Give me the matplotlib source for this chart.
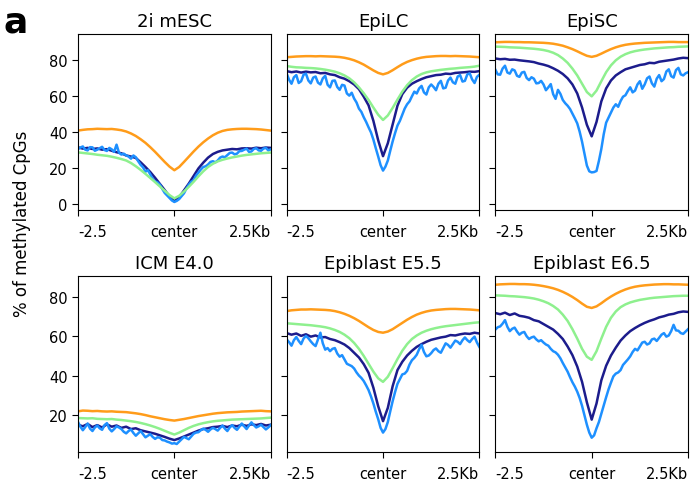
import numpy as np
import matplotlib
matplotlib.use("Agg")
import matplotlib.pyplot as plt

titles = ["2i mESC", "EpiLC", "EpiSC", "ICM E4.0", "Epiblast E5.5", "Epiblast E6.5"]
xtick_labels = ["-2.5", "center", "2.5Kb"]
ylabel = "% of methylated CpGs"
x_start, x_end = -2.5, 2.5

orange = {
    "2i mESC": [40.8, 41.2, 41.5, 41.6, 41.8, 41.7, 41.6, 41.7, 41.4, 41.0, 40.3, 39.2, 37.8, 36.0, 34.0, 31.6, 29.0, 26.2, 23.4, 20.8, 18.8,
                20.6, 23.4, 26.3, 29.2, 31.9, 34.3, 36.4, 38.2, 39.6, 40.6, 41.2, 41.5, 41.7, 41.8, 41.8, 41.7, 41.6, 41.4, 41.1, 40.8],
    "EpiLC": [81.5, 81.7, 81.9, 82.0, 82.1, 82.1, 82.0, 82.1, 82.0, 81.9, 81.8, 81.6, 81.2, 80.6, 79.8, 78.7, 77.4, 75.8, 74.2, 72.8, 72.0,
              72.8, 74.3, 76.0, 77.6, 78.9, 79.9, 80.7, 81.3, 81.7, 81.9, 82.1, 82.2, 82.2, 82.1, 82.2, 82.1, 82.0, 81.9, 81.7, 81.5],
    "EpiSC": [89.8, 89.9, 90.0, 90.0, 89.9, 89.9, 89.8, 89.8, 89.7, 89.6, 89.5, 89.3, 89.0, 88.5, 87.9, 87.0, 86.0, 84.8, 83.5, 82.3, 81.7,
              82.3, 83.5, 84.8, 86.0, 87.0, 87.8, 88.4, 88.8, 89.1, 89.3, 89.5, 89.6, 89.7, 89.8, 89.9, 90.0, 90.0, 89.9, 89.9, 89.9],
    "ICM E4.0": [21.8, 22.2, 22.1, 21.9, 22.0, 21.8, 21.7, 21.8, 21.6, 21.5, 21.4, 21.1, 20.8, 20.4, 19.9, 19.3, 18.8, 18.3, 17.8, 17.4, 17.1,
                 17.5, 17.9, 18.4, 18.9, 19.4, 19.8, 20.2, 20.6, 20.9, 21.1, 21.3, 21.4, 21.5, 21.7, 21.8, 21.9, 22.0, 22.1, 21.9, 21.8],
    "Epiblast E5.5": [72.8, 73.2, 73.4, 73.6, 73.6, 73.7, 73.6, 73.5, 73.4, 73.2, 72.8, 72.2, 71.4, 70.4, 69.2, 67.8, 66.2, 64.6, 63.2, 62.2, 61.8,
                      62.4, 63.6, 65.2, 66.8, 68.4, 69.8, 71.0, 71.9, 72.6, 73.1, 73.4, 73.6, 73.8, 73.9, 73.9, 73.8, 73.7, 73.6, 73.4, 73.2],
    "Epiblast E6.5": [86.2, 86.4, 86.5, 86.6, 86.6, 86.5, 86.5, 86.4, 86.2, 85.9, 85.5, 85.0, 84.4, 83.6, 82.6, 81.4, 80.0, 78.4, 76.6, 75.0, 74.4,
                      75.2, 76.8, 78.6, 80.2, 81.6, 82.8, 83.8, 84.6, 85.2, 85.6, 85.9, 86.1, 86.3, 86.4, 86.5, 86.5, 86.4, 86.4, 86.3, 86.2],
}

green = {
    "2i mESC": [28.7, 28.4, 28.1, 27.8, 27.4, 27.1, 26.8, 26.3, 25.7, 25.0, 24.2, 22.8, 21.0, 19.0, 16.8, 14.5, 12.2, 9.8, 7.4, 5.0, 3.2,
                4.6, 7.0, 9.6, 12.4, 15.4, 18.2, 20.6, 22.4, 23.7, 24.6, 25.3, 25.9, 26.4, 26.9, 27.3, 27.6, 27.9, 28.2, 28.4, 28.6],
    "EpiLC": [76.6, 76.2, 75.9, 75.8, 75.6, 75.5, 75.3, 75.0, 74.6, 74.1, 73.5, 72.6, 71.4, 69.8, 67.6, 64.8, 61.5, 57.8, 53.6, 49.6, 46.7,
              49.2, 53.4, 58.0, 62.4, 66.0, 68.8, 70.8, 72.2, 73.1, 73.7, 74.1, 74.5, 74.8, 75.1, 75.3, 75.6, 75.8, 76.0, 76.3, 76.8],
    "EpiSC": [87.4, 87.3, 87.2, 87.0, 86.9, 86.8, 86.6, 86.4, 86.2, 85.9, 85.5, 84.9, 84.0, 82.7, 80.8, 78.4, 75.2, 71.4, 66.8, 62.2, 59.8,
              63.0, 68.2, 73.2, 77.0, 79.8, 81.8, 83.2, 84.2, 84.9, 85.4, 85.8, 86.1, 86.4, 86.6, 86.8, 87.0, 87.1, 87.3, 87.4, 87.5],
    "ICM E4.0": [18.4, 18.3, 18.2, 18.3, 18.0, 17.9, 17.8, 17.9, 17.6, 17.4, 17.1, 16.8, 16.4, 15.9, 15.3, 14.6, 13.8, 12.9, 11.9, 10.9, 10.0,
                 11.0, 12.2, 13.4, 14.4, 15.2, 15.8, 16.3, 16.7, 17.0, 17.2, 17.4, 17.6, 17.7, 17.8, 17.9, 18.0, 18.1, 18.2, 18.4, 18.6],
    "Epiblast E5.5": [66.6, 66.4, 66.2, 66.0, 65.8, 65.6, 65.3, 65.0, 64.6, 64.0, 63.2, 62.2, 60.8, 59.0, 56.6, 53.6, 50.0, 46.0, 42.0, 38.6, 36.8,
                      39.4, 43.8, 48.4, 52.6, 56.0, 58.6, 60.4, 61.8, 62.8, 63.6, 64.2, 64.7, 65.1, 65.4, 65.7, 66.0, 66.3, 66.6, 66.9, 67.1],
    "Epiblast E6.5": [80.8, 80.7, 80.6, 80.4, 80.3, 80.1, 79.9, 79.6, 79.2, 78.6, 77.8, 76.8, 75.4, 73.6, 71.0, 67.8, 63.6, 58.8, 53.6, 49.6, 48.0,
                      52.4, 58.8, 64.8, 69.4, 72.6, 74.8, 76.2, 77.2, 77.9, 78.5, 78.9, 79.3, 79.6, 79.8, 80.0, 80.2, 80.4, 80.5, 80.6, 80.6],
}

navy = {
    "2i mESC": [31.5, 30.8, 31.2, 30.6, 30.9, 30.2, 30.5, 29.6, 28.8, 28.2, 27.0, 26.4, 25.6, 23.2, 20.6, 17.8, 14.6, 11.2, 7.8, 4.2, 1.6,
                3.8, 7.6, 11.4, 15.6, 19.8, 23.0, 25.8, 27.8, 29.0, 29.8, 30.2, 30.6, 30.4, 30.9, 31.0, 30.8, 31.3, 31.0, 31.4, 31.2],
    "EpiLC": [73.8, 73.2, 73.6, 73.0, 73.5, 73.1, 73.3, 72.6, 72.8, 72.0, 71.6, 70.4, 69.6, 68.2, 66.4, 63.8, 59.6, 54.8, 46.2, 35.4, 26.6,
              33.8, 44.2, 54.6, 61.0, 64.6, 66.8, 68.2, 69.4, 70.4, 71.0, 71.6, 71.8, 72.4, 72.2, 72.8, 73.0, 73.2, 73.5, 73.4, 73.8],
    "EpiSC": [80.8, 80.4, 80.6, 80.1, 80.2, 79.8, 79.5, 79.2, 78.8, 78.0, 77.4, 76.6, 75.4, 74.0, 72.2, 69.8, 66.4, 61.4, 53.6, 44.0, 37.6,
              45.6, 57.0, 64.2, 68.6, 71.4, 73.2, 74.8, 75.6, 76.4, 77.2, 77.6, 78.4, 78.2, 79.0, 79.4, 79.8, 80.2, 80.8, 81.2, 81.0],
    "ICM E4.0": [15.0, 14.2, 15.4, 13.8, 14.8, 13.6, 15.2, 14.0, 14.6, 13.4, 14.0, 12.8, 13.2, 12.2, 11.6, 11.0, 10.4, 9.6, 8.8, 7.9, 7.2,
                 8.0, 9.0, 10.0, 11.0, 12.0, 12.8, 13.2, 13.8, 14.0, 14.4, 13.8, 14.6, 14.2, 15.0, 14.4, 15.2, 14.8, 15.4, 14.6, 15.0],
    "Epiblast E5.5": [61.6, 60.8, 61.4, 60.2, 61.0, 59.8, 60.4, 59.4, 59.6, 58.6, 58.0, 57.0, 55.8, 54.0, 51.6, 49.2, 45.8, 41.4, 33.8, 24.4, 16.8,
                      23.6, 34.6, 42.8, 47.0, 50.2, 52.6, 54.6, 56.0, 57.2, 58.2, 58.8, 59.4, 59.8, 60.6, 60.4, 61.0, 61.4, 61.2, 61.8, 61.4],
    "Epiblast E6.5": [71.8, 71.2, 72.0, 70.8, 71.6, 70.4, 70.0, 69.4, 68.2, 67.6, 66.2, 64.8, 63.4, 61.2, 58.6, 54.8, 50.4, 44.6, 36.8, 26.4, 17.6,
                      25.8, 37.6, 45.0, 50.2, 54.2, 57.8, 60.4, 62.6, 64.2, 65.6, 66.8, 67.8, 68.6, 69.6, 70.2, 71.0, 71.4, 72.2, 72.6, 72.4],
}

blue = {
    "2i mESC": [30.5, 31.4, 32.0, 30.2, 29.8, 31.6, 31.5, 29.6, 30.2, 31.0, 31.8, 30.0, 29.5, 31.2, 30.4, 29.0, 33.0, 28.6, 27.5, 28.0,
                27.0, 26.4, 25.2, 27.0, 26.0, 23.8, 21.8, 20.4, 18.0, 18.8, 16.5, 14.0, 12.6, 12.0, 10.8, 8.4, 6.2, 4.8, 3.4, 2.0,
                1.2, 1.8, 2.8, 4.4, 6.0, 8.6, 10.8, 12.4, 13.2, 15.8, 17.5, 19.2, 20.6, 21.0, 22.0, 23.4, 23.8, 23.2, 24.2, 25.8,
                26.4, 26.0, 27.2, 28.4, 28.6, 27.6, 28.0, 29.4, 29.5, 30.2, 30.8, 29.0, 29.2, 30.6, 31.0, 29.8, 29.6, 30.8, 31.2, 29.8, 30.4],
    "EpiLC": [72.5, 69.0, 66.8, 70.4, 71.6, 67.2, 68.2, 71.8, 72.4, 68.6, 67.0, 70.2, 70.8, 67.4, 66.4, 69.8, 71.2, 66.2, 64.8, 68.4,
              68.6, 65.0, 63.4, 66.2, 65.8, 61.4, 60.2, 61.8, 58.6, 56.4, 53.0, 51.2, 48.2, 45.6, 42.6, 39.8, 35.8, 31.0, 26.4, 21.6,
              18.6, 20.8, 24.2, 29.6, 34.8, 39.4, 43.6, 46.2, 49.6, 53.0, 55.4, 57.0, 59.8, 62.4, 61.4, 64.2, 65.6, 62.0, 60.8, 64.8,
              66.4, 65.0, 63.2, 66.8, 68.4, 64.2, 64.6, 68.6, 70.2, 67.6, 66.8, 70.8, 71.6, 68.0, 68.4, 72.0, 72.6, 69.2, 67.2, 70.6, 71.8],
    "EpiSC": [74.6, 72.0, 71.8, 75.2, 76.8, 73.0, 72.4, 74.8, 74.2, 71.2, 70.6, 73.0, 73.4, 70.0, 68.8, 70.4, 69.6, 67.0, 67.2, 68.4,
              66.4, 63.2, 64.8, 66.6, 61.0, 58.4, 63.4, 61.2, 57.8, 56.0, 54.6, 52.8, 50.2, 47.6, 44.8, 40.2, 34.6, 28.0, 21.4, 18.2,
              17.6, 17.8, 18.4, 24.0, 30.6, 38.8, 45.2, 48.0, 50.8, 53.6, 55.4, 54.0, 57.2, 59.6, 60.4, 62.8, 64.8, 62.0, 63.0, 66.4,
              68.2, 64.0, 66.4, 69.8, 70.8, 67.0, 65.2, 69.6, 71.6, 68.2, 69.4, 73.6, 74.8, 71.0, 70.2, 74.4, 75.6, 72.0, 71.4, 72.6, 73.2],
    "ICM E4.0": [16.4, 14.0, 12.2, 13.8, 15.6, 13.0, 11.8, 13.6, 14.6, 13.2, 12.4, 14.8, 15.8, 13.0, 11.6, 12.8, 14.2, 13.6, 12.8, 11.4,
                 10.6, 11.8, 12.6, 10.8, 9.4, 10.6, 11.8, 10.2, 8.6, 9.4, 10.2, 8.8, 7.8, 8.6, 8.4, 7.2, 7.0, 6.4, 6.0, 5.4,
                 5.6, 5.2, 6.4, 7.6, 8.8, 8.2, 7.6, 9.0, 10.4, 11.0, 11.2, 12.2, 13.0, 12.4, 11.4, 12.6, 13.4, 12.8, 12.0, 13.4,
                 14.6, 13.0, 11.8, 13.6, 14.8, 13.4, 12.4, 14.0, 15.6, 14.2, 12.8, 14.6, 16.2, 14.8, 13.6, 14.2, 15.0, 13.8, 12.6, 13.6, 14.8],
    "Epiblast E5.5": [58.4, 57.0, 55.2, 58.0, 59.6, 57.6, 56.0, 58.8, 60.2, 59.0, 57.4, 56.0, 55.0, 58.4, 61.8, 56.4, 53.2, 54.0, 52.4, 53.6,
                      54.0, 51.2, 49.6, 50.4, 48.2, 46.0, 45.4, 44.8, 43.6, 41.6, 40.0, 38.8, 37.2, 35.0, 32.6, 29.4, 25.8, 21.6, 17.8, 13.4,
                      11.0, 12.8, 16.4, 21.8, 27.0, 31.6, 35.8, 38.2, 40.6, 41.0, 42.4, 45.6, 47.8, 49.0, 50.6, 53.4, 55.6, 52.0, 49.8, 50.2,
                      51.4, 53.0, 53.8, 52.4, 51.6, 54.0, 56.4, 55.6, 54.2, 56.0, 57.8, 57.2, 56.0, 58.0, 59.4, 58.0, 57.0, 58.6, 59.8, 56.8, 54.6],
    "Epiblast E6.5": [63.4, 64.6, 65.0, 66.4, 68.2, 64.8, 62.6, 63.8, 64.4, 62.4, 60.8, 61.8, 62.2, 60.0, 58.6, 59.4, 59.8, 58.4, 57.4, 58.0,
                      56.8, 55.8, 55.2, 53.6, 52.4, 51.8, 50.6, 48.8, 46.4, 44.2, 42.0, 39.2, 36.6, 34.4, 31.8, 28.6, 24.6, 19.8, 15.0, 11.0,
                      8.4, 9.6, 13.2, 16.4, 20.6, 24.8, 29.0, 33.0, 36.4, 39.6, 41.0, 41.6, 42.8, 45.4, 46.8, 48.2, 49.8, 52.0, 53.6, 52.8,
                      54.8, 56.8, 57.2, 55.8, 56.4, 58.4, 58.8, 57.6, 59.2, 60.8, 61.6, 59.8, 60.4, 62.6, 65.8, 63.0, 62.8, 61.6, 61.2, 62.4, 63.6],
}

colors = {"navy": "#1c1c8c", "blue": "#1e90ff", "green": "#8ef08e", "orange": "#ff9c1a"}


def bins(values):
    return np.linspace(x_start, x_end, len(values))


fig, axes = plt.subplots(2, 3, figsize=(6.94, 4.85), dpi=100, sharey="row")
fig.subplots_adjust(left=0.1124, right=0.9914, top=0.928, bottom=0.066, wspace=0.083, hspace=0.375)

for ax, t in zip(axes.flat, titles):
    ax.plot(bins(navy[t]), navy[t], color=colors["navy"], lw=1.8)
    ax.plot(bins(blue[t]), blue[t], color=colors["blue"], lw=1.8)
    ax.plot(bins(green[t]), green[t], color=colors["green"], lw=1.8)
    ax.plot(bins(orange[t]), orange[t], color=colors["orange"], lw=1.8)
    ax.set_xlim(x_start, x_end)
    ax.set_xticks([x_start, 0, x_end])
    ax.set_xticklabels(xtick_labels)
    labs = ax.get_xticklabels()
    labs[0].set_horizontalalignment("left")
    labs[2].set_horizontalalignment("right")
    ax.set_title(t, fontsize=13, pad=6)
    ax.tick_params(labelsize=10.5)
    ax.tick_params(axis="x", length=4, pad=6)
    ax.tick_params(axis="y", length=4)

axes[0, 0].set_yticks([0, 20, 40, 60, 80])
axes[1, 0].set_yticks([20, 40, 60, 80])

fig.text(0.032, 0.538, ylabel, rotation=90, fontsize=12, ha="center", va="center")
fig.text(0.005, 0.934, "a", fontsize=26, fontweight="bold", ha="left", va="baseline")

fig.savefig("out.png", dpi=100)
